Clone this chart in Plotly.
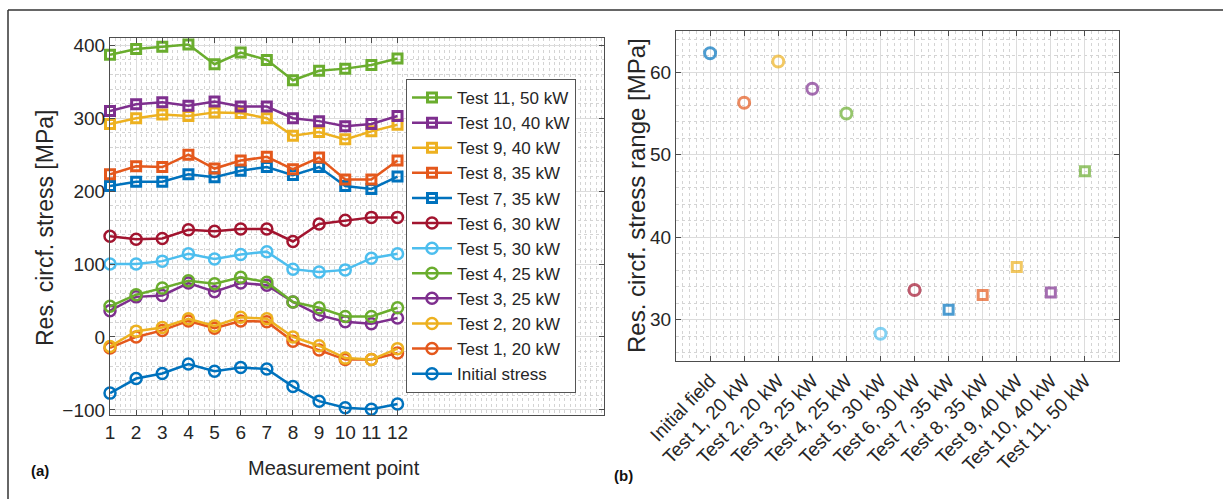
import plotly.graph_objects as go

# ---- data -------------------------------------------------------------
points = list(range(1, 13))

initial_stress = [-77, -57, -50, -37, -47, -42, -44, -68, -88, -97, -99, -92]
test1 = [-15, 0, 9, 22, 12, 22, 21, -6, -18, -31, -31, -22]
test2 = [-13, 8, 13, 25, 15, 27, 25, 0, -12, -29, -31, -16]
test3 = [36, 55, 57, 74, 62, 74, 71, 48, 30, 21, 18, 26]
test4 = [42, 58, 67, 77, 73, 82, 75, 48, 40, 28, 28, 40]
test5 = [100, 100, 104, 114, 107, 113, 117, 93, 89, 92, 108, 114]
test6 = [138, 134, 135, 147, 145, 148, 148, 131, 155, 160, 164, 164]
test7 = [207, 213, 213, 223, 219, 228, 233, 222, 233, 207, 203, 220]
test8 = [223, 234, 233, 250, 231, 242, 247, 230, 246, 216, 216, 242]
test9 = [292, 300, 305, 303, 308, 307, 300, 276, 281, 271, 282, 291]
test10 = [310, 319, 322, 317, 323, 316, 316, 300, 296, 289, 292, 303]
test11 = [387, 395, 398, 401, 374, 390, 380, 352, 365, 368, 373, 382]

series_names = [
    "Initial stress", "Test 1, 20 kW", "Test 2, 20 kW", "Test 3, 25 kW",
    "Test 4, 25 kW", "Test 5, 30 kW", "Test 6, 30 kW", "Test 7, 35 kW",
    "Test 8, 35 kW", "Test 9, 40 kW", "Test 10, 40 kW", "Test 11, 50 kW",
]
series_values = [initial_stress, test1, test2, test3, test4, test5, test6,
                 test7, test8, test9, test10, test11]

range_labels = [
    "Initial field", "Test 1, 20 kW", "Test 2, 20 kW", "Test 3, 25 kW",
    "Test 4, 25 kW", "Test 5, 30 kW", "Test 6, 30 kW", "Test 7, 35 kW",
    "Test 8, 35 kW", "Test 9, 40 kW", "Test 10, 40 kW", "Test 11, 50 kW",
]
stress_range = [62.3, 56.3, 61.3, 58.0, 55.0, 28.3, 33.6, 31.2, 33.0, 36.4, 33.3, 48.0]

# ---- styling ----------------------------------------------------------
colors = ["#0072BD", "#E4581C", "#EDB120", "#7E2F8E", "#6AAD2E", "#4DBEEE",
          "#A2142F", "#0072BD", "#E4581C", "#EDB120", "#7E2F8E", "#6AAD2E"]
symbols = ["circle-open"] * 7 + ["square-open"] * 5

W, H = 1223, 499
FONT = "Liberation Sans, Arial, Helvetica, sans-serif"
TXT = "#262626"
AX = "#4d4d4d"
GRID = "#dcdcdc"
MINOR = "#d4d4d4"


def px_x(x):
    return x / W


def px_y(y):
    return 1 - y / H


fig = go.Figure()

# (a) residual stress per measurement point
for name, vals, col, sym in zip(series_names, series_values, colors, symbols):
    is_circle = "circle" in sym
    fig.add_trace(go.Scatter(
        x=points, y=vals, name=name, mode="lines+markers",
        line=dict(color=col, width=2.5),
        marker=dict(symbol=sym, size=11 if is_circle else 9,
                    color=col, line=dict(width=2.5 if is_circle else 3, color=col)),
        cliponaxis=False, xaxis="x", yaxis="y",
    ))

# (b) stress range per test
fig.add_trace(go.Scatter(
    x=list(range(1, len(stress_range) + 1)), y=stress_range, mode="markers",
    showlegend=False,
    marker=dict(symbol=["circle-open"] * 7 + ["square-open"] * 5,
                size=[11] * 7 + [9] * 5, color=colors,
                line=dict(width=3, color=colors)),
    cliponaxis=False, xaxis="x2", yaxis="y2",
))

axis_common = dict(
    showline=True, linecolor=AX, linewidth=1.2, mirror="ticks",
    ticks="inside", ticklen=5, tickcolor=AX, zeroline=False,
    showgrid=True, gridcolor=GRID, gridwidth=1, automargin=False,
)

fig.update_layout(
    template="none",
    width=W, height=H, autosize=False,
    margin=dict(l=0, r=0, t=0, b=0, pad=0),
    paper_bgcolor="white", plot_bgcolor="white",
    font=dict(family=FONT, color=TXT),
    showlegend=True,
    xaxis=dict(domain=[px_x(110), px_x(604)], range=[1, 19.9],
               tickvals=points, ticktext=[str(p) for p in points],
               tickfont=dict(family=FONT, size=19, color=TXT),
               minor=dict(dtick=0.2, tick0=1, showgrid=True, gridcolor=MINOR,
                          griddash="dot", gridwidth=1, ticks=""),
               anchor="y", **axis_common),
    yaxis=dict(domain=[px_y(415), px_y(38)], range=[-107, 410],
               dtick=100, tick0=0,
               tickfont=dict(family=FONT, size=19, color=TXT),
               minor=dict(dtick=20, showgrid=True, gridcolor=MINOR,
                          griddash="dot", gridwidth=1, ticks=""),
               anchor="x", **axis_common),
    xaxis2=dict(domain=[px_x(676), px_x(1119)], range=[0, 13],
                tickvals=list(range(1, 13)), ticktext=range_labels,
                tickangle=-46,
                tickfont=dict(family=FONT, size=19, color=TXT),
                minor=dict(dtick=0.2, tick0=0, showgrid=True, gridcolor=MINOR,
                           griddash="dot", gridwidth=1, ticks=""),
                anchor="y2", **axis_common),
    yaxis2=dict(domain=[px_y(361), px_y(31)], range=[25, 65],
                dtick=10, tick0=0,
                tickfont=dict(family=FONT, size=19, color=TXT),
                minor=dict(dtick=2, showgrid=True, gridcolor=MINOR,
                           griddash="dot", gridwidth=1, ticks=""),
                anchor="x2", **axis_common),
    legend=dict(x=px_x(406), y=px_y(79), xref="paper", yref="paper",
                xanchor="left", yanchor="top",
                traceorder="reversed", bgcolor="white",
                bordercolor="#555555", borderwidth=1,
                font=dict(family=FONT, size=17, color=TXT),
                itemwidth=40, tracegroupgap=0),
)


def label(text, x, y, size, angle=0, bold=False, color=TXT):
    fig.add_annotation(text=f"<b>{text}</b>" if bold else text,
                       x=px_x(x), y=px_y(y), xref="paper", yref="paper",
                       xanchor="center", yanchor="middle",
                       showarrow=False, textangle=angle,
                       font=dict(family=FONT, size=size, color=color))


# axis titles and panel tags
label("Res. circf. stress [MPa]", 45, 228, 23, angle=-90)
label("Measurement point", 334, 468, 20)
label("Res. circf. stress range [MPa]", 636, 195, 24, angle=-90)
label("(a)", 40, 470, 15, bold=True, color="#111111")
label("(b)", 623, 475, 15, bold=True, color="#111111")

# figure frame (top and left edges)
fig.add_shape(type="line", xref="paper", yref="paper",
              x0=px_x(8), x1=1, y0=px_y(10), y1=px_y(10),
              line=dict(color="#333333", width=1.5))
fig.add_shape(type="line", xref="paper", yref="paper",
              x0=px_x(8), x1=px_x(8), y0=px_y(10), y1=0,
              line=dict(color="#333333", width=1.5))

fig.write_html("out.html")
